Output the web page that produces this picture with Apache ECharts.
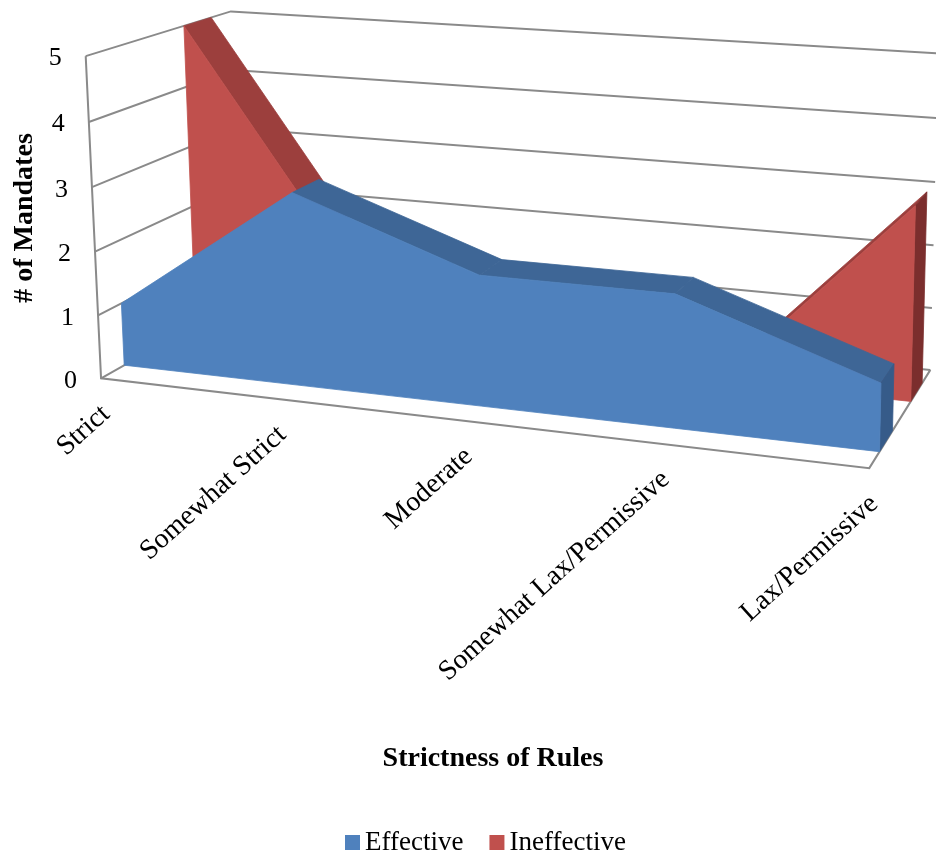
<!DOCTYPE html>
<html>
<head>
<meta charset="utf-8">
<title>Strictness of Rules</title>
<script src="https://cdn.jsdelivr.net/npm/echarts@6/dist/echarts.min.js"></script>
<style>
  html, body { margin: 0; padding: 0; background: #ffffff; }
  #main { width: 936px; height: 852px; }
</style>
</head>
<body>
<div id="main"></div>
<script>
// ---- data ----
const categories = ['Strict', 'Somewhat Strict', 'Moderate', 'Somewhat Lax/Permissive', 'Lax/Permissive'];
const effective = [1, 3, 2, 2, 1];
const ineffective = [5, 1, 0, 0, 3];
const yTicks = [0, 1, 2, 3, 4, 5];
const yMax = 5;

// ---- 3D view ----
// Screen positions of the plot box edges, given in box space
// (x along categories, y along values, z into depth; each 0..1).
const viewAnchors = [
  [0, 0.0, 0, 100, 377], [0, 0.2, 0, 99, 313], [0, 0.4, 0, 95, 250],
  [0, 0.6, 0, 92, 188], [0, 0.8, 0, 89, 123], [0, 1.0, 0, 85, 58],
  [0, 0.0, 1, 241, 302], [0, 0.2, 1, 239, 244], [0, 0.4, 1, 237, 186],
  [0, 0.6, 1, 235, 128], [0, 0.8, 1, 233, 69], [0, 1.0, 1, 231, 10],
  [1, 0.0, 0, 870, 470],
  [1, 0.0, 1, 930, 369], [1, 0.2, 1, 931.7, 306], [1, 0.4, 1, 933.4, 245.5],
  [1, 0.6, 1, 935.1, 182.6], [1, 0.8, 1, 936.8, 118.4], [1, 1.0, 1, 938.5, 53.5]
];
// Depth slots of the two series (front and back face of each slab)
const depthSlots = { Effective: [0.15, 0.35], Ineffective: [0.65, 0.85] };

const FONT = '"Liberation Serif", "Times New Roman", serif';
const GRID_COLOR = '#8a8a8a';
const palettes = {
  Effective: { front: '#4f81bd', top: '#3e6696', side: '#365b89' },
  Ineffective: { front: '#c0504d', top: '#9c3f3d', side: '#7b2e2d' }
};

// Fit a perspective camera (3x4 projective matrix) to the anchors by least squares.
function fitProjection(pts) {
  const N = 11, S = 1000;
  const A = Array.from({ length: N }, () => new Array(N).fill(0));
  const b = new Array(N).fill(0);
  pts.forEach(([X, Y, Z, u0, v0]) => {
    const u = u0 / S, v = v0 / S;
    const rows = [
      [[X, Y, Z, 1, 0, 0, 0, 0, -u * X, -u * Y, -u * Z], u],
      [[0, 0, 0, 0, X, Y, Z, 1, -v * X, -v * Y, -v * Z], v]
    ];
    rows.forEach(([r, t]) => {
      for (let i = 0; i < N; i++) {
        for (let j = 0; j < N; j++) A[i][j] += r[i] * r[j];
        b[i] += r[i] * t;
      }
    });
  });
  for (let c = 0; c < N; c++) {
    let p = c;
    for (let r = c + 1; r < N; r++) if (Math.abs(A[r][c]) > Math.abs(A[p][c])) p = r;
    [A[c], A[p]] = [A[p], A[c]];
    [b[c], b[p]] = [b[p], b[c]];
    for (let r = c + 1; r < N; r++) {
      const f = A[r][c] / A[c][c];
      for (let k = c; k < N; k++) A[r][k] -= f * A[c][k];
      b[r] -= f * b[c];
    }
  }
  const m = new Array(N).fill(0);
  for (let r = N - 1; r >= 0; r--) {
    let s = b[r];
    for (let k = r + 1; k < N; k++) s -= A[r][k] * m[k];
    m[r] = s / A[r][r];
  }
  return function (X, Y, Z) {
    const w = m[8] * X + m[9] * Y + m[10] * Z + 1;
    return [
      S * (m[0] * X + m[1] * Y + m[2] * Z + m[3]) / w,
      S * (m[4] * X + m[5] * Y + m[6] * Z + m[7]) / w
    ];
  };
}
const project = fitProjection(viewAnchors);

// Map a (category index, value) pair through the cartesian axes into 0..1 box space.
function toUnit(api, i, v) {
  const p = api.coord([i, v]);
  const o = api.coord([0, 0]);
  const e = api.coord([categories.length - 1, yMax]);
  return [(p[0] - o[0]) / (e[0] - o[0]), (p[1] - o[1]) / (e[1] - o[1])];
}

function signedArea(pts) {
  let s = 0;
  for (let k = 0; k < pts.length; k++) {
    const a = pts[k], c = pts[(k + 1) % pts.length];
    s += a[0] * c[1] - c[0] * a[1];
  }
  return s;
}

function face(points, color) {
  return {
    type: 'polygon',
    shape: { points },
    style: { fill: color, stroke: color, lineWidth: 0.8 }
  };
}

// One area series drawn as a slab: each item draws the top surface of its segment
// (when it faces the viewer); the last item adds the end face and the whole front face.
function slabRenderer(values, slot, pal) {
  const [z0, z1] = slot;
  return function (params, api) {
    const i = params.dataIndex;
    const n = values.length;
    const P = (u, z) => project(u[0], u[1], z);
    const a = toUnit(api, i, api.value(1));
    const children = [];
    if (i < n - 1) {
      const b = toUnit(api, i + 1, values[i + 1]);
      const top = [P(a, z0), P(b, z0), P(b, z1), P(a, z1)];
      if (signedArea(top) < 0) children.push(face(top, pal.top));
    } else {
      const a0 = toUnit(api, i, 0);
      const cap = [P(a, z0), P(a0, z0), P(a0, z1), P(a, z1)];
      if (signedArea(cap) < 0) children.push(face(cap, pal.side));
      const outline = [];
      for (let k = 0; k < n; k++) outline.push(P(toUnit(api, k, values[k]), z0));
      for (let k = n - 1; k >= 0; k--) outline.push(P(toUnit(api, k, 0), z0));
      children.push(face(outline, pal.front));
    }
    return { type: 'group', children };
  };
}

// Walls: one gridline per value tick across the left and back walls, plus its label.
function frameRenderer(params, api) {
  const v = api.value(1);
  const y = toUnit(api, 0, v)[1];
  const lineStyle = { stroke: GRID_COLOR, lineWidth: 2, fill: 'none' };
  const children = [{
    type: 'polyline',
    shape: { points: [project(0, y, 0), project(0, y, 1), project(1, y, 1)] },
    style: lineStyle
  }];
  const p = project(0, y, 0);
  children.push({
    type: 'text', x: p[0] - 24, y: p[1] + 2.5,
    style: { text: String(yTicks[params.dataIndex]), fill: '#000', fontFamily: FONT, fontSize: 26, align: 'right', verticalAlign: 'middle' }
  });
  if (params.dataIndex === 0) {
    const top = toUnit(api, 0, yMax)[1];
    children.push({ type: 'polyline', shape: { points: [project(0, top, 0), project(0, y, 0), project(1, y, 0), project(1, y, 1)] }, style: lineStyle });
  }
  return { type: 'group', children };
}

// Category labels under the front edge of the floor.
const LABEL_ANGLE = 42 * Math.PI / 180;
function categoryRenderer(params, api) {
  const u = toUnit(api, api.value(0), 0);
  const p = project(u[0], 0, 0);
  return {
    type: 'text', x: p[0] + 5, y: p[1] + 32, rotation: LABEL_ANGLE,
    style: { text: categories[params.dataIndex], fill: '#000', fontFamily: FONT, fontSize: 28, align: 'right', verticalAlign: 'middle' }
  };
}

const chart = echarts.init(document.getElementById('main'), null, { renderer: 'canvas' });
chart.setOption({
  animation: false,
  backgroundColor: '#ffffff',
  grid: { left: 100, right: 100, top: 100, bottom: 100 },
  xAxis: { type: 'category', data: categories, boundaryGap: false, show: false },
  yAxis: { type: 'value', min: 0, max: yMax, interval: 1, show: false },
  legend: {
    data: ['Effective', 'Ineffective'],
    left: 340, top: 824,
    icon: 'rect', itemWidth: 15, itemHeight: 15, itemGap: 26,
    textStyle: { fontFamily: FONT, fontSize: 27, color: '#000' }
  },
  graphic: [
    { type: 'text', x: 493, y: 759, style: { text: 'Strictness of Rules', fill: '#000', fontFamily: FONT, fontSize: 28, fontWeight: 'bold', align: 'center', verticalAlign: 'middle' } },
    { type: 'text', x: 25, y: 218, rotation: Math.PI / 2, style: { text: '# of Mandates', fill: '#000', fontFamily: FONT, fontSize: 28, fontWeight: 'bold', align: 'center', verticalAlign: 'middle' } }
  ],
  series: [
    { name: 'frame', type: 'custom', z: 1, silent: true, renderItem: frameRenderer, data: yTicks.map(v => [0, v]) },
    { name: 'Ineffective', type: 'custom', z: 2, itemStyle: { color: palettes.Ineffective.front },
      renderItem: slabRenderer(ineffective, depthSlots.Ineffective, palettes.Ineffective),
      data: ineffective.map((v, i) => [i, v]) },
    { name: 'Effective', type: 'custom', z: 3, itemStyle: { color: palettes.Effective.front },
      renderItem: slabRenderer(effective, depthSlots.Effective, palettes.Effective),
      data: effective.map((v, i) => [i, v]) },
    { name: 'labels', type: 'custom', z: 4, silent: true, renderItem: categoryRenderer, data: categories.map((c, i) => [i, 0]) }
  ]
});
</script>
</body>
</html>
